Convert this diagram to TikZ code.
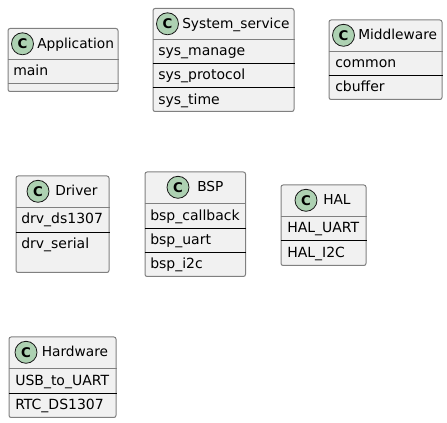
\documentclass[tikz,border=0pt]{standalone}
\usepackage{fontspec}
\setmainfont{DejaVu Sans}
\definecolor{boxfill}{HTML}{F1F1F1}
\definecolor{boxline}{HTML}{808080}
\definecolor{spotfill}{HTML}{ADD1B2}
\definecolor{inkline}{HTML}{181818}
\tikzset{
  classbox/.style={draw=boxline,fill=boxfill,line width=0.75pt,rounded corners=1.6pt,inner sep=0pt,anchor=north west},
  spot/.style={circle,draw=inkline,fill=spotfill,line width=0.6pt,minimum size=16.5pt,inner sep=0pt,font=\bfseries\fontsize{10}{10}\selectfont},
  title/.style={font=\fontsize{10.3}{12}\selectfont,inner sep=0pt,anchor=base west,text=black},
  member/.style={font=\fontsize{10.5}{12}\selectfont,inner sep=0pt,anchor=base west,text=black},
  headrule/.style={draw=boxline,line width=0.75pt},
  memrule/.style={draw=black,line width=0.6pt}
}
% \cbox{name}{x1}{y1}{x2}{y2}{header line y}{spot x}{title x}{title}
\newcommand{\cbox}[9]{%
  \node[classbox,minimum width=#4*0.75pt-#2*0.75pt,minimum height=#5*0.75pt-#3*0.75pt] (#1) at (#2,#3) {};
  \draw[headrule] (#1.west |- 0,#6) -- (#1.east |- 0,#6);
  \node[spot] (#1s) at (#7,#3+15.8) {C};
  \node[title] (#1t) at (#8,#3+20.5) {#9};
}
\newcommand{\cmem}[4]{\node[member] (#1) at (#2,#3) {#4};}
\newcommand{\crule}[2]{\draw[memrule] (#1.west |- 0,#2) -- (#1.east |- 0,#2);}
\begin{document}
\begin{tikzpicture}[x=0.75pt,y=-0.75pt]
\useasboundingbox (0,0) rectangle (447,423);
\cbox{app}{7.5}{28}{117.5}{91}{59.5}{22.5}{37}{Application}
\cmem{appa}{13}{76}{main}
\draw[headrule] (app.west |- 0,83.5) -- (app.east |- 0,83.5);

\cbox{sys}{152.5}{8}{293.5}{111}{39.5}{167.5}{182}{System\_service}
\cmem{sysa}{158}{56}{sys\_manage}
\crule{sys}{63.5}
\cmem{sysb}{158}{80}{sys\_protocol}
\crule{sys}{87.5}
\cmem{sysc}{158}{105}{sys\_time}

\cbox{mid}{328.5}{19.5}{441.5}{99}{51.5}{343.5}{358}{Middleware}
\cmem{mida}{335}{68}{common}
\crule{mid}{75.5}
\cmem{midb}{335}{92}{cbuffer}

\cbox{drv}{15.5}{175.5}{108.5}{272}{207.5}{38}{55}{Driver}
\cmem{drva}{21}{224}{drv\_ds1307}
\crule{drv}{232}
\cmem{drvb}{21}{249}{drv\_serial}

\cbox{bsp}{144.5}{171.5}{245}{276}{203.5}{178}{197}{BSP}
\cmem{bspa}{150}{221}{bsp\_callback}
\crule{bsp}{228}
\cmem{bspb}{150}{245}{bsp\_uart}
\crule{bsp}{252}
\cmem{bspc}{150}{269}{bsp\_i2c}

\cbox{hal}{280.5}{184.5}{365.5}{265}{216.5}{306}{323}{HAL}
\cmem{hala}{287}{233}{HAL\_UART}
\crule{hal}{240.5}
\cmem{halb}{287}{258}{HAL\_I2C}

\cbox{hw}{8.5}{336.5}{115.5}{417}{368.5}{26}{41.5}{Hardware}
\cmem{hwa}{15}{386}{USB\_to\_UART}
\crule{hw}{393}
\cmem{hwb}{15}{410}{RTC\_DS1307}
\end{tikzpicture}
\end{document}
